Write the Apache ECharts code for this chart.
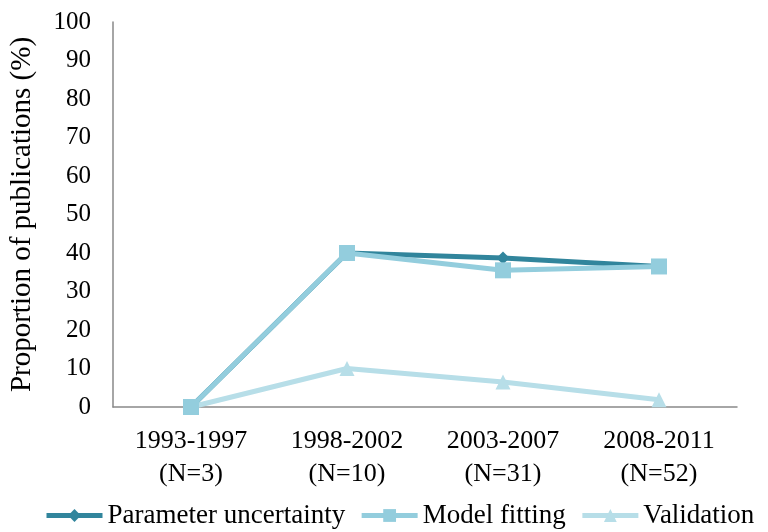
<!DOCTYPE html>
<html>
<head>
<meta charset="utf-8">
<script src="https://cdn.jsdelivr.net/npm/echarts@6/dist/echarts.min.js"></script>
<style>
  html, body { margin: 0; padding: 0; background: #fff; }
  #chart { width: 768px; height: 532px; }
</style>
</head>
<body>
<div id="chart"></div>
<script>
// data
const periods = ['1993-1997\n(N=3)', '1998-2002\n(N=10)', '2003-2007\n(N=31)', '2008-2011\n(N=52)'];
const paramUncertainty = [0, 40, 38.7, 36.5];
const modelFitting = [0, 40, 35.5, 36.5];
const validation = [0, 10, 6.5, 1.9];
const yTicks = [0, 10, 20, 30, 40, 50, 60, 70, 80, 90, 100];

const font = 'Liberation Serif';
const chart = echarts.init(document.getElementById('chart'));

const option = {
  animation: false,
  textStyle: { fontFamily: font },
  grid: { left: 113, right: 31, top: 22, bottom: 125, containLabel: false, outerBoundsMode: 'none' },
  legend: {
    bottom: 3,
    left: 44,
    width: 724,
    padding: 0,
    itemWidth: 56,
    itemHeight: 16,
    itemGap: 14,
    lineStyle: { width: 5 },
    textStyle: { fontFamily: font, fontSize: 27, color: '#000' },
    data: ['Parameter uncertainty', 'Model fitting', 'Validation']
  },
  xAxis: {
    type: 'category',
    data: periods,
    boundaryGap: true,
    axisLine: { lineStyle: { color: '#898989', width: 1.5 } },
    axisTick: { show: false },
    axisLabel: { fontFamily: font, fontSize: 26, color: '#000', lineHeight: 33, margin: 18 }
  },
  yAxis: {
    type: 'value',
    min: yTicks[0],
    max: yTicks[yTicks.length - 1],
    interval: 10,
    name: 'Proportion of publications (%)',
    nameLocation: 'middle',
    nameGap: 76,
    nameTextStyle: { fontFamily: font, fontSize: 29, color: '#000' },
    axisLine: { show: true, lineStyle: { color: '#898989', width: 1.5 } },
    axisTick: { show: false },
    splitLine: { show: false },
    axisLabel: { fontFamily: font, fontSize: 25, color: '#000', margin: 22 }
  },
  series: [
    {
      name: 'Parameter uncertainty',
      type: 'line',
      data: paramUncertainty,
      symbol: 'diamond',
      symbolSize: 13,
      lineStyle: { color: '#31859C', width: 5 },
      itemStyle: { color: '#31859C' },
      z: 2
    },
    {
      name: 'Model fitting',
      type: 'line',
      data: modelFitting,
      symbol: 'rect',
      symbolSize: 16,
      lineStyle: { color: '#93CDDD', width: 5 },
      itemStyle: { color: '#93CDDD' },
      z: 3
    },
    {
      name: 'Validation',
      type: 'line',
      data: validation,
      symbol: 'triangle',
      symbolSize: 15,
      lineStyle: { color: '#B7DEE8', width: 5 },
      itemStyle: { color: '#B7DEE8' },
      z: 1
    }
  ]
};

chart.setOption(option);
</script>
</body>
</html>
